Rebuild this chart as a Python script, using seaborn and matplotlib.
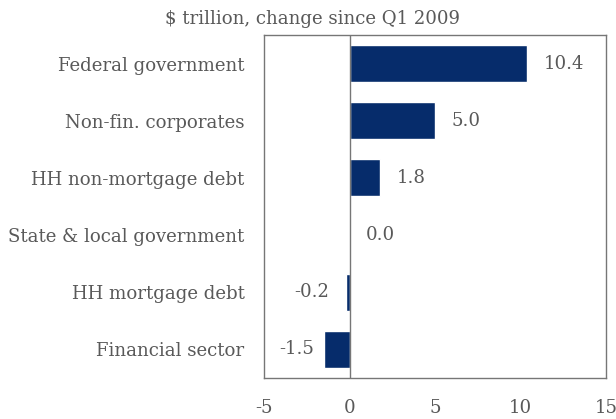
import matplotlib
matplotlib.use("Agg")
import matplotlib.pyplot as plt
import seaborn as sns
import pandas as pd

# Change in outstanding debt by sector, $ trillion since Q1 2009
sectors = [
    "Federal government",
    "Non-fin. corporates",
    "HH non-mortgage debt",
    "State & local government",
    "HH mortgage debt",
    "Financial sector",
]
change = [10.4, 5.0, 1.8, 0.0, -0.2, -1.5]
x_ticks = [-5, 0, 5, 10, 15]

df = pd.DataFrame({"sector": sectors, "change": change})

sns.set_theme(style="white")
plt.rcParams["font.family"] = ["DejaVu Serif"]

text_color = "#595959"
bar_color = "#062c6b"
frame_color = "#767676"
fs = 13.1

fig = plt.figure(figsize=(6.16, 4.19), dpi=100)
ax = fig.add_axes([0.4286, 0.0979, 0.5552, 0.8186])

sns.barplot(data=df, x="change", y="sector", orient="h", color=bar_color,
            width=0.65, saturation=1, ax=ax)

ax.axvline(0, color=frame_color, lw=1.0, zorder=3)

ax.set_xlim(-5, 15)
ax.set_ylim(5.5, -0.5)
ax.set_xticks(x_ticks)
ax.set_xticklabels([str(t) for t in x_ticks])
ax.set_xlabel("")
ax.set_ylabel("")

for side in ["top", "bottom", "left", "right"]:
    ax.spines[side].set_visible(True)
    ax.spines[side].set_color(frame_color)
    ax.spines[side].set_linewidth(1.0)

ax.tick_params(axis="x", length=0, pad=15, labelsize=fs, labelcolor=text_color)
ax.tick_params(axis="y", length=0, pad=14, labelsize=fs, labelcolor=text_color)

# value labels just outside each bar end
labels = ax.bar_label(ax.containers[0], fmt="%.1f", padding=12,
                      fontsize=fs, color=text_color)
# the longest negative bar gets its label a little closer
labels[-1].xyann = (-7, 0)

fig.text(0.507, 0.955, "$ trillion, change since Q1 2009", ha="center",
         va="center", fontsize=fs, color=text_color)

fig.savefig("out.png", dpi=100)
